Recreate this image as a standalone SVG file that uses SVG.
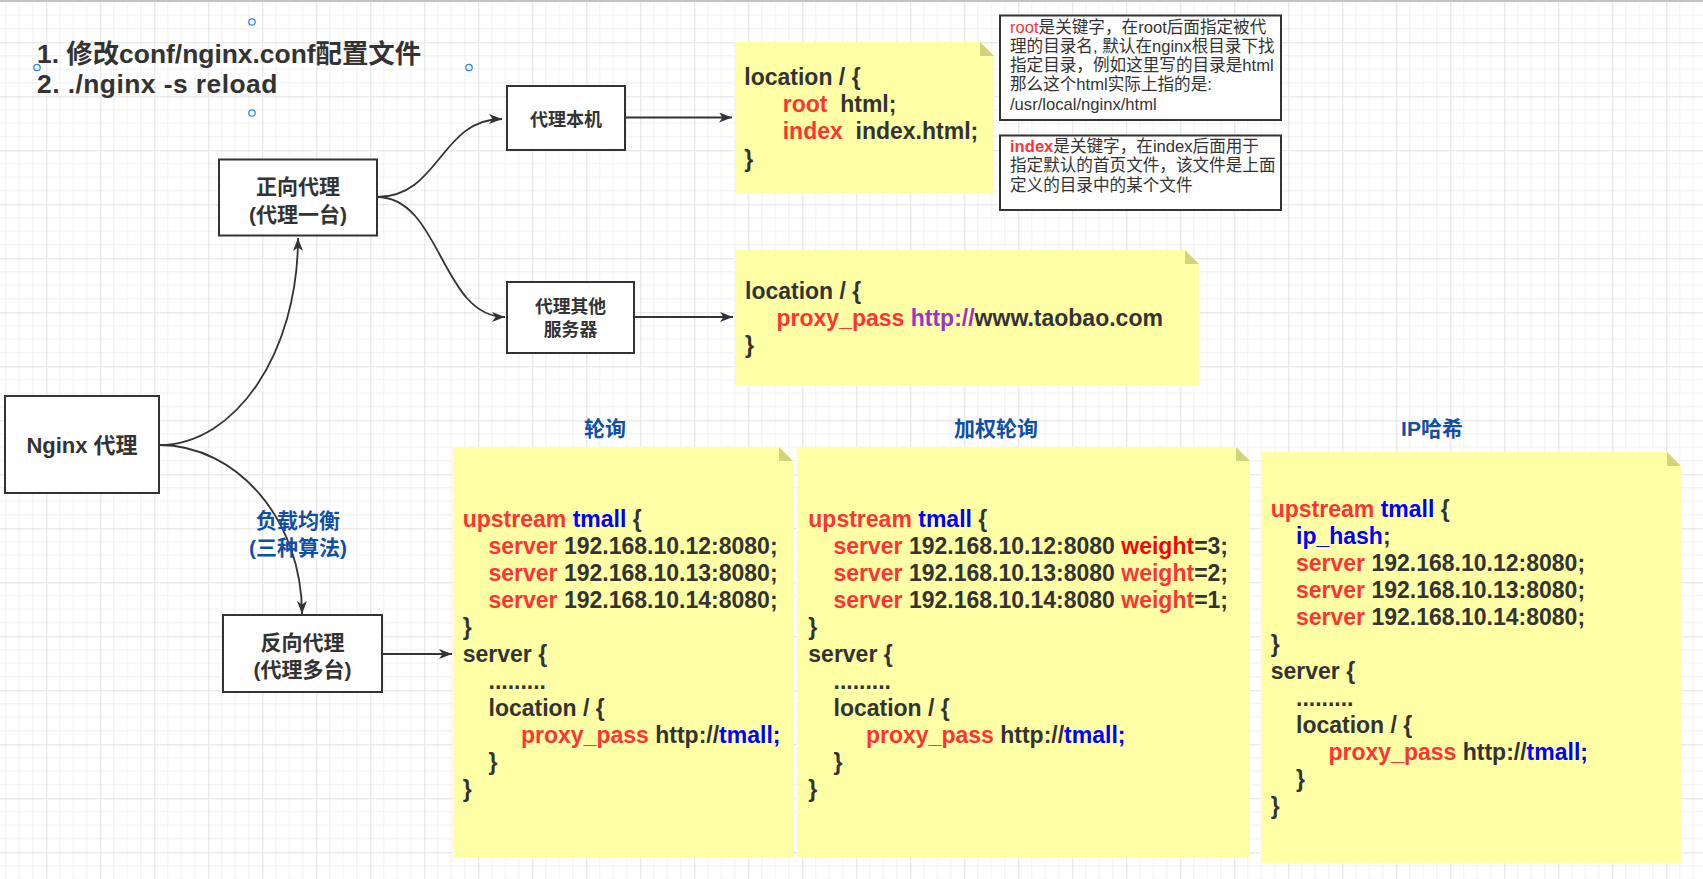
<svg xmlns="http://www.w3.org/2000/svg" width="1703" height="879" viewBox="0 0 1703 879">
<style>
text { font-family: "Liberation Sans","Noto Sans CJK SC",sans-serif; fill:#333333; }
.code { font-size:23px; font-weight:bold; }
.title { font-size:26.4px; font-weight:bold; }
.node { fill:#ffffff; stroke:#333333; stroke-width:2; }
.nt { font-weight:bold; text-anchor:middle; }
.lbl { font-size:21px; font-weight:bold; fill:#0f4fa8; text-anchor:middle; }
.note { fill:#ffffa6; }
.fold { fill:#d3d37c; }
.r { fill:#ff3333; }
.rr { fill:#ff0000; }
.b { fill:#0000ff; }
.p { fill:#9933cc; }
.cm { font-size:16.6px; }
.edge { fill:none; stroke:#333333; stroke-width:1.8; marker-end:url(#arr); }
.handle { fill:#ffffff; stroke:#2b86f5; stroke-width:1.3; }
</style>
<defs>
<pattern id="grid" x="-7.7" y="-11.7" width="54" height="54" patternUnits="userSpaceOnUse">
<path d="M13.5,0V54M27,0V54M40.5,0V54M0,13.5H54M0,27H54M0,40.5H54" stroke="#f1f1f1" stroke-width="1" fill="none"/>
<path d="M0.5,0V54M0,0.5H54" stroke="#e2e2e2" stroke-width="1" fill="none"/>
</pattern>
<marker id="arr" markerUnits="userSpaceOnUse" markerWidth="14" markerHeight="10" refX="13" refY="5" orient="auto">
<path d="M0,0 L13,5 L0,10 L3.5,5 Z" fill="#333333"/>
</marker>
</defs>
<rect x="0" y="0" width="1703" height="879" fill="#ffffff"/>
<rect x="0" y="0" width="1703" height="879" fill="url(#grid)"/>
<rect x="0" y="0" width="1703" height="2" fill="#c4c4c4"/>

<g id="title">
<text class="title" x="37" y="63">1. 修改conf/nginx.conf配置文件</text>
<text class="title" x="37" y="92.5" letter-spacing="0.45">2. ./nginx -s reload</text>
<circle class="handle" cx="252" cy="22" r="3.2"/>
<circle class="handle" cx="37" cy="67.5" r="3.2"/>
<circle class="handle" cx="469" cy="67.5" r="3.2"/>
<circle class="handle" cx="252" cy="113" r="3.2"/>
</g>

<g id="connectors">
<path class="edge" d="M159,445 C236,445 298,352 298,238"/>
<path class="edge" d="M159,445 C238,445 302,521 302,614"/>
<path class="edge" d="M377,197 C440,197 440,119 502,119"/>
<path class="edge" d="M377,197 C441,197 441,317 505,317"/>
<path class="edge" d="M625,117.5 L732,117.5"/>
<path class="edge" d="M634,317 L733,317"/>
<path class="edge" d="M382,654 L452,654"/>
<text class="lbl" x="298" y="528">负载均衡</text>
<text class="lbl" x="298" y="555">(三种算法)</text>
</g>

<g id="nginx">
<rect class="node" x="5" y="396" width="154" height="97"/>
<text class="nt" x="82" y="453" style="font-size:22px">Nginx 代理</text>
</g>

<g id="forward">
<rect class="node" x="219" y="159.5" width="158" height="76"/>
<text class="nt" x="298" y="194" style="font-size:21px">正向代理</text>
<text class="nt" x="298" y="222" style="font-size:21px">(代理一台)</text>
</g>

<g id="reverse">
<rect class="node" x="223" y="615" width="159" height="77"/>
<text class="nt" x="302.5" y="650" style="font-size:21px">反向代理</text>
<text class="nt" x="302.5" y="677" style="font-size:21px">(代理多台)</text>
</g>

<g id="local">
<rect class="node" x="507" y="86" width="118" height="64"/>
<text class="nt" x="566" y="126" style="font-size:18px">代理本机</text>
</g>

<g id="other">
<rect class="node" x="507" y="282" width="127" height="71"/>
<text class="nt" x="570.5" y="313" style="font-size:17.8px">代理其他</text>
<text class="nt" x="570.5" y="335.5" style="font-size:17.8px">服务器</text>
</g>

<g id="note-root">
<path class="note" d="M735,42 L980,42 L994,56 L994,193 L735,193 Z"/>
<path class="fold" d="M980,42 L980,56 L994,56 Z"/>
<text class="code" x="744.3" y="85">location / {</text>
<text class="code" x="782.7" y="112"><tspan class="r">root</tspan>&#160; html;</text>
<text class="code" x="782.7" y="139"><tspan class="r">index</tspan>&#160; index.html;</text>
<text class="code" x="744.3" y="166.5">}</text>
</g>

<g id="note-proxy">
<path class="note" d="M735,250 L1185,250 L1199,264 L1199,385 L735,385 Z"/>
<path class="fold" d="M1185,250 L1185,264 L1199,264 Z"/>
<text class="code" x="745" y="299">location / {</text>
<text class="code" x="776.5" y="326"><tspan class="r">proxy_pass</tspan> <tspan class="p">http://</tspan>www.taobao.com</text>
<text class="code" x="745" y="353">}</text>
</g>

<g id="comment-root">
<rect class="node" x="1000" y="15.5" width="281" height="104.5"/>
<text class="cm" x="1010" y="32.5"><tspan class="r">root</tspan>是关键字，在root后面指定被代</text>
<text class="cm" x="1010" y="51.8">理的目录名, 默认在nginx根目录下找</text>
<text class="cm" x="1010" y="71.1">指定目录，例如这里写的目录是html</text>
<text class="cm" x="1010" y="90.4">那么这个html实际上指的是:</text>
<text class="cm" x="1010" y="109.7">/usr/local/nginx/html</text>
</g>

<g id="comment-index">
<rect class="node" x="1000" y="135.5" width="281" height="74.5"/>
<text class="cm" x="1010" y="152"><tspan class="r" font-weight="bold">index</tspan>是关键字，在index后面用于</text>
<text class="cm" x="1010" y="171.3">指定默认的首页文件，该文件是上面</text>
<text class="cm" x="1010" y="190.6">定义的目录中的某个文件</text>
</g>

<g id="rr-label"><text class="lbl" x="605" y="436">轮询</text></g>
<g id="wrr-label"><text class="lbl" x="996" y="436">加权轮询</text></g>
<g id="iphash-label"><text class="lbl" x="1432" y="436">IP哈希</text></g>

<g id="note-rr">
<path class="note" d="M453,447 L779,447 L793,461 L793,857 L453,857 Z"/>
<path class="fold" d="M779,447 L779,461 L793,461 Z"/>
<text class="code" x="462.7" y="527"><tspan class="r">upstream</tspan> <tspan class="b">tmall</tspan> {</text>
<text class="code" x="488.5" y="554"><tspan class="r">server</tspan> 192.168.10.12:8080;</text>
<text class="code" x="488.5" y="581"><tspan class="r">server</tspan> 192.168.10.13:8080;</text>
<text class="code" x="488.5" y="608"><tspan class="r">server</tspan> 192.168.10.14:8080;</text>
<text class="code" x="462.7" y="635">}</text>
<text class="code" x="462.7" y="662">server {</text>
<text class="code" x="488.5" y="689">.........</text>
<text class="code" x="488.5" y="716">location / {</text>
<text class="code" x="521" y="743"><tspan class="r">proxy_pass</tspan> http://<tspan class="b">tmall;</tspan></text>
<text class="code" x="488.5" y="770">}</text>
<text class="code" x="462.7" y="797">}</text>
</g>

<g id="note-wrr">
<path class="note" d="M797,447 L1236,447 L1250,461 L1250,857 L797,857 Z"/>
<path class="fold" d="M1236,447 L1236,461 L1250,461 Z"/>
<text class="code" x="808.3" y="527"><tspan class="r">upstream</tspan> <tspan class="b">tmall</tspan> {</text>
<text class="code" x="833.5" y="554"><tspan class="r">server</tspan> 192.168.10.12:8080 <tspan class="rr">weight</tspan>=3;</text>
<text class="code" x="833.5" y="581"><tspan class="r">server</tspan> 192.168.10.13:8080 <tspan class="r">weight</tspan>=2;</text>
<text class="code" x="833.5" y="608"><tspan class="r">server</tspan> 192.168.10.14:8080 <tspan class="r">weight</tspan>=1;</text>
<text class="code" x="808.3" y="635">}</text>
<text class="code" x="808.3" y="662">server {</text>
<text class="code" x="833.5" y="689">.........</text>
<text class="code" x="833.5" y="716">location / {</text>
<text class="code" x="866" y="743"><tspan class="r">proxy_pass</tspan> http://<tspan class="b">tmall;</tspan></text>
<text class="code" x="833.5" y="770">}</text>
<text class="code" x="808.3" y="797">}</text>
</g>

<g id="note-iphash">
<path class="note" d="M1261,452 L1667,452 L1681,466 L1681,863 L1261,863 Z"/>
<path class="fold" d="M1667,452 L1667,466 L1681,466 Z"/>
<text class="code" x="1270.7" y="517.3"><tspan class="r">upstream</tspan> <tspan class="b">tmall</tspan> {</text>
<text class="code" x="1296" y="544.3"><tspan class="b">ip_hash</tspan>;</text>
<text class="code" x="1296" y="571.3"><tspan class="r">server</tspan> 192.168.10.12:8080;</text>
<text class="code" x="1296" y="598.3"><tspan class="r">server</tspan> 192.168.10.13:8080;</text>
<text class="code" x="1296" y="625.3"><tspan class="r">server</tspan> 192.168.10.14:8080;</text>
<text class="code" x="1270.7" y="652.3">}</text>
<text class="code" x="1270.7" y="679.3">server {</text>
<text class="code" x="1296" y="706.3">.........</text>
<text class="code" x="1296" y="733.3">location / {</text>
<text class="code" x="1328.5" y="760.3"><tspan class="r">proxy_pass</tspan> http://<tspan class="b">tmall;</tspan></text>
<text class="code" x="1296" y="787.3">}</text>
<text class="code" x="1270.7" y="814.3">}</text>
</g>
</svg>
